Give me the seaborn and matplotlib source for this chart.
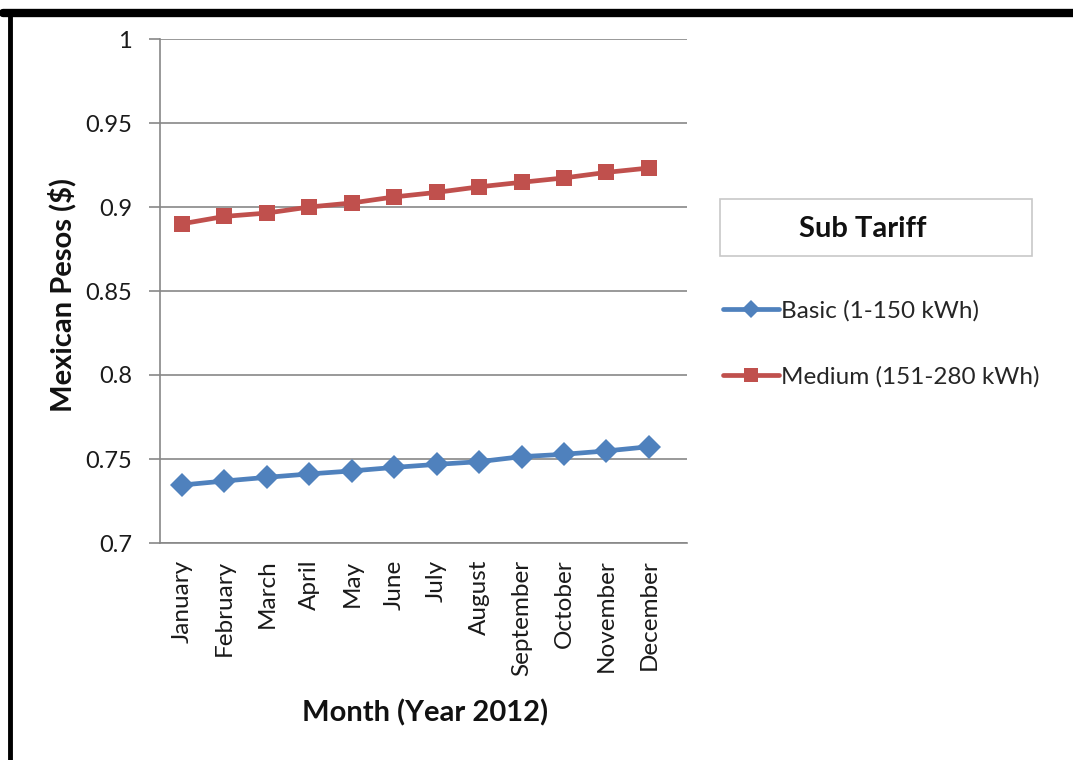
import matplotlib
matplotlib.use("Agg")
import matplotlib.pyplot as plt
from matplotlib.lines import Line2D
from matplotlib.patches import Rectangle
from matplotlib.ticker import FuncFormatter
import seaborn as sns
import pandas as pd

months = ["January", "February", "March", "April", "May", "June",
          "July", "August", "September", "October", "November", "December"]
basic = [0.7345, 0.7369, 0.7391, 0.7411, 0.7429, 0.7450,
         0.7468, 0.7484, 0.7514, 0.7528, 0.7548, 0.7573]
medium = [0.8900, 0.8944, 0.8964, 0.9000, 0.9024, 0.9060,
          0.9087, 0.9120, 0.9147, 0.9173, 0.9206, 0.9232]
series_names = ["Basic (1-150 kWh)", "Medium (151-280 kWh)"]
y_ticks = [0.7, 0.75, 0.8, 0.85, 0.9, 0.95, 1.0]

sns.set_theme(style="white")
plt.rcParams["font.family"] = ["Lato", "DejaVu Sans"]

df = pd.DataFrame({
    "month": list(range(len(months))) * 2,
    "value": basic + medium,
    "series": [series_names[0]] * len(months) + [series_names[1]] * len(months),
})

colors = {series_names[0]: "#4F81BD", series_names[1]: "#C0504D"}

fig = plt.figure(figsize=(10.73, 7.60), dpi=100)
ax = fig.add_axes([160 / 1073, 1 - 543 / 760, (687 - 160) / 1073, (543 - 39) / 760])

sns.lineplot(data=df, x="month", y="value", hue="series", style="series",
             markers={series_names[0]: "D", series_names[1]: "s"},
             dashes=False, palette=colors, linewidth=3.4,
             markersize=12, markeredgewidth=0, ax=ax, legend=False)

ax.set_xlim(-0.52, 11.9)
ax.set_ylim(0.7, 1.0)
ax.set_yticks(y_ticks)
ax.yaxis.set_major_formatter(FuncFormatter(lambda v, p: f"{v:g}"))
ax.set_xticks(range(len(months)))
ax.set_xticklabels(months, rotation=90, fontsize=17.5, color="#1a1a1a")
ax.tick_params(axis="x", length=0, pad=12)
ax.tick_params(axis="y", length=8, width=1.2, color="#878787", pad=12,
               labelsize=17, labelcolor="#1a1a1a", left=True)
ax.grid(axis="y", color="#878787", linewidth=1.2)
ax.set_axisbelow(True)
for side in ["top", "right"]:
    ax.spines[side].set_visible(False)
for side in ["left", "bottom"]:
    ax.spines[side].set_color("#878787")
    ax.spines[side].set_linewidth(1.2)

ax.set_xlabel("Month (Year 2012)", fontsize=21, fontweight="bold",
              color="#111111", va="center")
ax.set_ylabel("Mexican Pesos ($)", fontsize=21, fontweight="bold",
              color="#111111", va="center")
ax.xaxis.set_label_coords((425 - 160) / (687 - 160), -(713 - 543) / (543 - 39))
ax.yaxis.set_label_coords(-(160 - 62) / (687 - 160), (543 - 295) / (543 - 39))

# Legend title box
fig.add_artist(Rectangle((720 / 1073, 1 - 256 / 760), (1032 - 720) / 1073, 57 / 760,
                         transform=fig.transFigure, facecolor="white",
                         edgecolor="#c8c8c8", linewidth=1.2))
fig.text(863 / 1073, 1 - 229 / 760, "Sub Tariff", ha="center", va="center",
         fontsize=21, fontweight="bold", color="#111111")

handles = [Line2D([], [], color=colors[series_names[0]], linewidth=3.4,
                  marker="D", markersize=9, markeredgewidth=0),
           Line2D([], [], color=colors[series_names[1]], linewidth=3.4,
                  marker="s", markersize=10, markeredgewidth=0)]
fig.legend(handles, series_names, loc="upper left",
           bbox_to_anchor=(723 / 1073, 1 - 300 / 760), frameon=False,
           fontsize=17.5, handlelength=2.3, handletextpad=0.1,
           labelspacing=1.85, borderaxespad=0, borderpad=0)

# Outer frame edges
fig.add_artist(Line2D([3 / 1073, 1], [1 - 13 / 760, 1 - 13 / 760],
                      transform=fig.transFigure, color="black", linewidth=6))
fig.add_artist(Line2D([10 / 1073, 10 / 1073], [0, 1 - 13 / 760],
                      transform=fig.transFigure, color="black", linewidth=3.5))

fig.savefig("out.png", dpi=100, facecolor="white")
